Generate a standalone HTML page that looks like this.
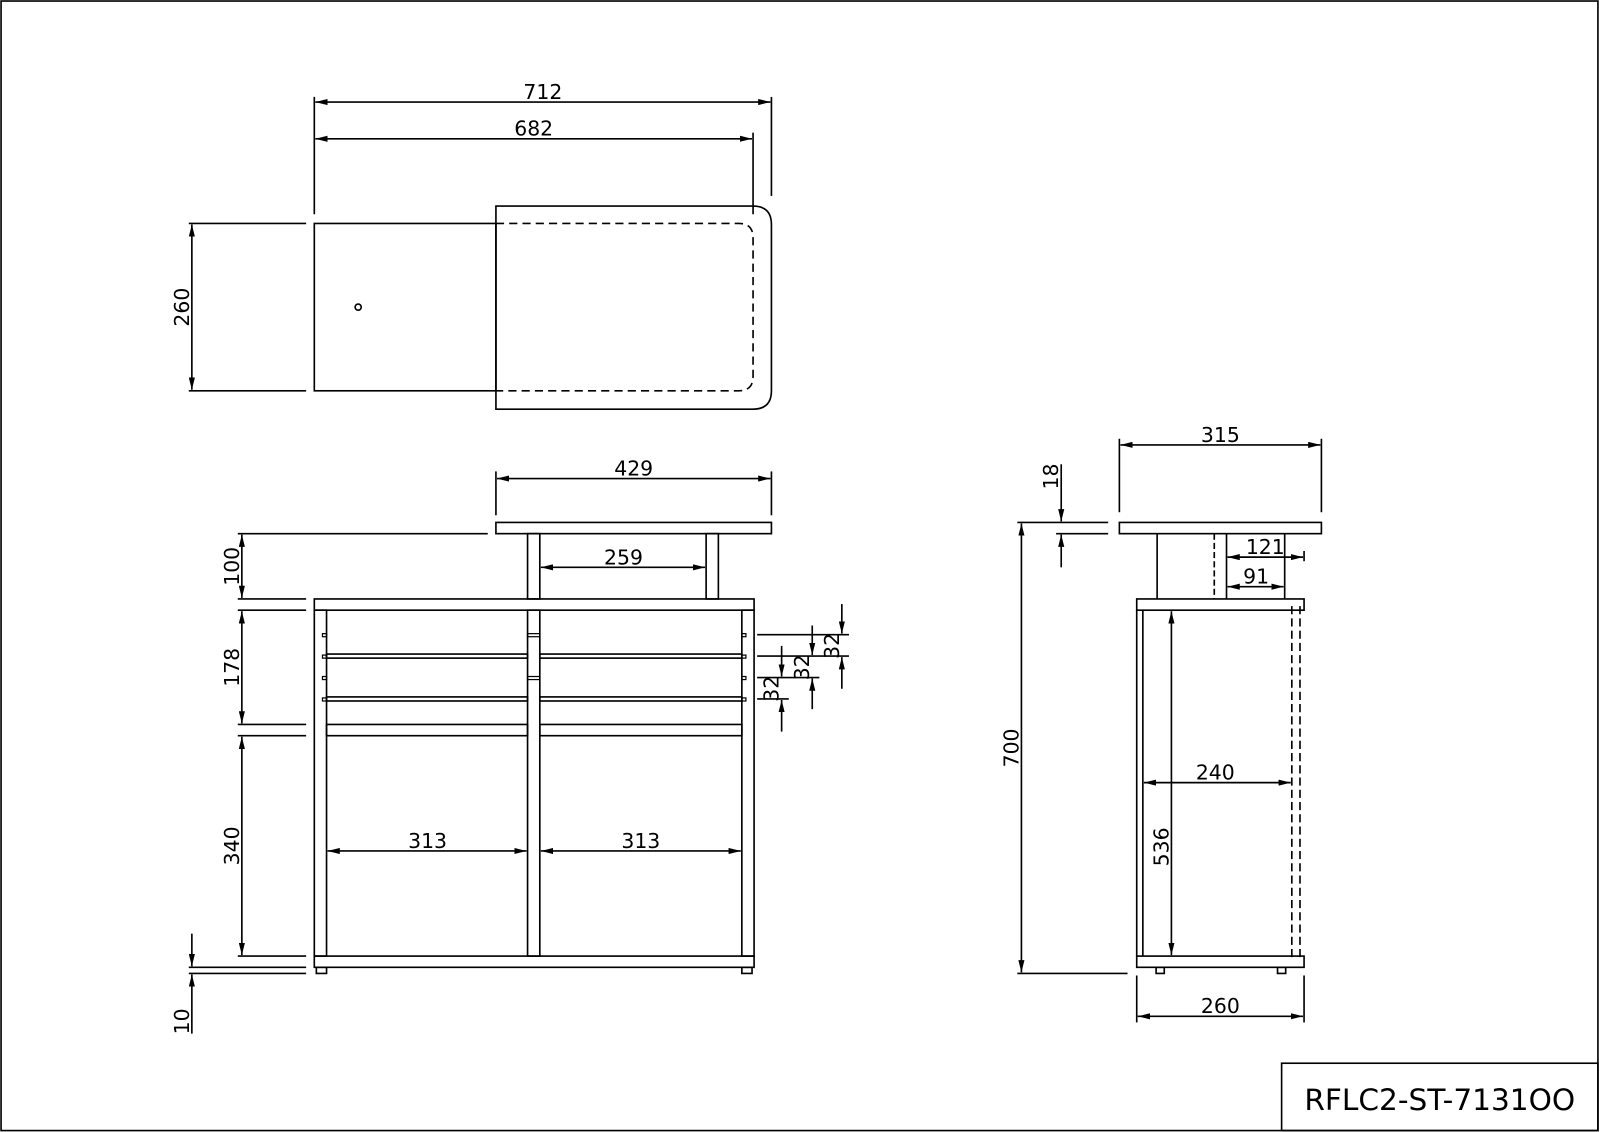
<!DOCTYPE html>
<html><head><meta charset="utf-8"><style>
html,body{margin:0;padding:0;background:#fff}
svg{display:block}
text{font-family:"DejaVu Sans","Liberation Sans",sans-serif;font-size:20px;fill:#000}
</style></head><body>
<svg width="1600" height="1132" viewBox="0 0 1568 1109.4" xmlns="http://www.w3.org/2000/svg">
<defs>
<marker id="a" viewBox="0 0 12 6" refX="12" refY="3" markerWidth="12" markerHeight="6" orient="auto-start-reverse" markerUnits="userSpaceOnUse"><path d="M0,0 L12,3 L0,6 z" fill="#000"/></marker>
</defs>
<g fill="none" stroke="#000" stroke-width="1.6">
<rect x="1" y="1" width="1565" height="1107"/>
<rect x="1256" y="1042" width="310" height="66"/>

<!-- TOP VIEW -->
<rect x="308" y="219" width="178" height="164"/>
<path d="M486,202 H738 Q756,202 756,220 V383 Q756,401 738,401 H486 Z"/>
<path d="M486,219 H724 Q738,219 738,233 V369 Q738,383 724,383 H486" stroke-dasharray="8,5"/>
<circle cx="351" cy="301" r="3"/>
<line x1="308" y1="95" x2="308" y2="210"/>
<line x1="756" y1="95" x2="756" y2="192"/>
<line x1="738" y1="130" x2="738" y2="210"/>
<line x1="309" y1="100" x2="755" y2="100" marker-start="url(#a)" marker-end="url(#a)"/>
<line x1="309" y1="136" x2="737" y2="136" marker-start="url(#a)" marker-end="url(#a)"/>
<line x1="185" y1="219" x2="300" y2="219"/>
<line x1="185" y1="383" x2="300" y2="383"/>
<line x1="188" y1="220" x2="188" y2="382" marker-start="url(#a)" marker-end="url(#a)"/>

<!-- FRONT VIEW -->
<rect x="486" y="512" width="270" height="11"/>
<rect x="517" y="523" width="12" height="64"/>
<rect x="692" y="523" width="12" height="64"/>
<line x1="486" y1="462" x2="486" y2="505"/>
<line x1="756" y1="462" x2="756" y2="505"/>
<line x1="487" y1="469" x2="755" y2="469" marker-start="url(#a)" marker-end="url(#a)"/>
<line x1="530" y1="556" x2="691" y2="556" marker-start="url(#a)" marker-end="url(#a)"/>
<rect x="308" y="587" width="431" height="11"/>
<rect x="308" y="598" width="12" height="339"/>
<rect x="727" y="598" width="12" height="339"/>
<rect x="517" y="598" width="12" height="339"/>
<rect x="308" y="937" width="431" height="11"/>
<rect x="310" y="948" width="10" height="6"/>
<rect x="727" y="948" width="10" height="6"/>
<rect x="320" y="641" width="197" height="4"/><rect x="529" y="641" width="198" height="4"/>
<rect x="320" y="683" width="197" height="4"/><rect x="529" y="683" width="198" height="4"/>
<rect x="320" y="710" width="197" height="11"/><rect x="529" y="710" width="198" height="11"/>
<g stroke-width="1.2">
<rect x="316" y="621" width="4" height="3"/><rect x="316" y="642" width="4" height="3"/><rect x="316" y="663" width="4" height="3"/><rect x="316" y="684" width="4" height="3"/>
<rect x="727" y="621" width="4" height="3"/><rect x="727" y="642" width="4" height="3"/><rect x="727" y="663" width="4" height="3"/><rect x="727" y="684" width="4" height="3"/>
<rect x="517" y="621" width="12" height="3"/><rect x="517" y="663" width="12" height="3"/>
</g>
<!-- left dims -->
<line x1="233" y1="523" x2="478" y2="523"/>
<line x1="233" y1="587" x2="300" y2="587"/>
<line x1="233" y1="598" x2="300" y2="598"/>
<line x1="233" y1="710" x2="300" y2="710"/>
<line x1="233" y1="721" x2="300" y2="721"/>
<line x1="233" y1="937" x2="300" y2="937"/>
<line x1="185" y1="948" x2="300" y2="948"/>
<line x1="185" y1="954" x2="300" y2="954"/>
<line x1="237" y1="524" x2="237" y2="586" marker-start="url(#a)" marker-end="url(#a)"/>
<line x1="237" y1="599" x2="237" y2="709" marker-start="url(#a)" marker-end="url(#a)"/>
<line x1="237" y1="722" x2="237" y2="936" marker-start="url(#a)" marker-end="url(#a)"/>
<line x1="188" y1="915" x2="188" y2="947" marker-end="url(#a)"/>
<line x1="188" y1="1013" x2="188" y2="955" marker-end="url(#a)"/>
<line x1="321" y1="834" x2="516" y2="834" marker-start="url(#a)" marker-end="url(#a)"/>
<line x1="530" y1="834" x2="726" y2="834" marker-start="url(#a)" marker-end="url(#a)"/>
<!-- 32 dims -->
<line x1="742" y1="622" x2="832" y2="622"/>
<line x1="742" y1="643" x2="832" y2="643"/>
<line x1="742" y1="664" x2="803" y2="664"/>
<line x1="742" y1="685" x2="773" y2="685"/>
<line x1="825" y1="592" x2="825" y2="621" marker-end="url(#a)"/>
<line x1="825" y1="675" x2="825" y2="644" marker-end="url(#a)"/>
<line x1="796" y1="613" x2="796" y2="642" marker-end="url(#a)"/>
<line x1="796" y1="695" x2="796" y2="665" marker-end="url(#a)"/>
<line x1="766" y1="633" x2="766" y2="663" marker-end="url(#a)"/>
<line x1="766" y1="717" x2="766" y2="686" marker-end="url(#a)"/>

<!-- SIDE VIEW -->
<rect x="1097" y="512" width="198" height="11"/>
<line x1="1097" y1="430" x2="1097" y2="502"/>
<line x1="1295" y1="430" x2="1295" y2="502"/>
<line x1="1098" y1="436" x2="1294" y2="436" marker-start="url(#a)" marker-end="url(#a)"/>
<line x1="1134" y1="523" x2="1134" y2="587"/>
<line x1="1190" y1="523" x2="1190" y2="587" stroke-dasharray="6,3"/>
<line x1="1202" y1="523" x2="1202" y2="587"/>
<line x1="1259" y1="523" x2="1259" y2="587"/>
<line x1="1278" y1="540" x2="1278" y2="550"/>
<line x1="1203" y1="546" x2="1277" y2="546" marker-start="url(#a)" marker-end="url(#a)"/>
<line x1="1203" y1="575" x2="1258" y2="575" marker-start="url(#a)" marker-end="url(#a)"/>
<rect x="1114" y="587" width="164" height="11"/>
<line x1="1114" y1="598" x2="1114" y2="937"/>
<line x1="1120" y1="598" x2="1120" y2="937"/>
<line x1="1266" y1="594" x2="1266" y2="940" stroke-dasharray="8,4"/>
<line x1="1274" y1="594" x2="1274" y2="940" stroke-dasharray="8,4"/>
<rect x="1114" y="937" width="164" height="11"/>
<rect x="1133" y="948" width="8" height="6"/>
<rect x="1252" y="948" width="8" height="6"/>
<line x1="997" y1="512" x2="1086" y2="512"/>
<line x1="1035" y1="523" x2="1086" y2="523"/>
<line x1="997" y1="954" x2="1105" y2="954"/>
<line x1="1001" y1="513" x2="1001" y2="953" marker-start="url(#a)" marker-end="url(#a)"/>
<line x1="1040" y1="455" x2="1040" y2="511" marker-end="url(#a)"/>
<line x1="1040" y1="556" x2="1040" y2="524" marker-end="url(#a)"/>
<line x1="1121" y1="767" x2="1265" y2="767" marker-start="url(#a)" marker-end="url(#a)"/>
<line x1="1148" y1="599" x2="1148" y2="936" marker-start="url(#a)" marker-end="url(#a)"/>
<line x1="1114" y1="956" x2="1114" y2="1002"/>
<line x1="1278" y1="956" x2="1278" y2="1002"/>
<line x1="1115" y1="996" x2="1277" y2="996" marker-start="url(#a)" marker-end="url(#a)"/>
</g>

<g>
<text x="532" y="97" text-anchor="middle">712</text>
<text x="523" y="133" text-anchor="middle">682</text>
<text transform="translate(185,301) rotate(-90)" text-anchor="middle">260</text>
<text x="621" y="466" text-anchor="middle">429</text>
<text x="611" y="553" text-anchor="middle">259</text>
<text transform="translate(234,555) rotate(-90)" text-anchor="middle">100</text>
<text transform="translate(234,654) rotate(-90)" text-anchor="middle">178</text>
<text transform="translate(234,829) rotate(-90)" text-anchor="middle">340</text>
<text transform="translate(185,1001) rotate(-90)" text-anchor="middle">10</text>
<text x="419" y="831" text-anchor="middle">313</text>
<text x="628" y="831" text-anchor="middle">313</text>
<text transform="translate(822,633) rotate(-90)" text-anchor="middle">32</text>
<text transform="translate(793,654) rotate(-90)" text-anchor="middle">32</text>
<text transform="translate(763,675) rotate(-90)" text-anchor="middle">32</text>
<text x="1196" y="433" text-anchor="middle">315</text>
<text x="1240" y="543" text-anchor="middle">121</text>
<text x="1231" y="572" text-anchor="middle">91</text>
<text transform="translate(1037,467) rotate(-90)" text-anchor="middle">18</text>
<text transform="translate(998,733) rotate(-90)" text-anchor="middle">700</text>
<text x="1191" y="764" text-anchor="middle">240</text>
<text transform="translate(1145,830) rotate(-90)" text-anchor="middle">536</text>
<text x="1196" y="993" text-anchor="middle">260</text>
<text x="1411" y="1088" text-anchor="middle" style="font-size:29px">RFLC2-ST-7131OO</text>
</g>
</svg>
</body></html>
